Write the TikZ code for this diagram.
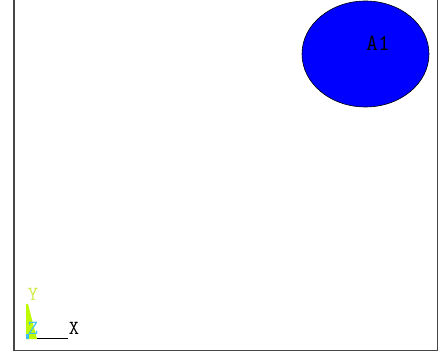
\documentclass[tikz,border=0pt]{standalone}
\usetikzlibrary{shapes.geometric}
\definecolor{frameg}{RGB}{70,70,70}
\definecolor{areablue}{RGB}{0,0,255}
\definecolor{triady}{RGB}{190,250,0}
\definecolor{labely}{RGB}{205,235,70}
\definecolor{labelz}{RGB}{60,190,250}
\tikzset{
  lbl/.style={inner sep=0pt, font=\ttfamily\fontsize{20}{20}\selectfont},
  arealbl/.style={inner sep=0pt, font=\ttfamily\fontsize{23}{23}\selectfont},
}
\begin{document}
\begin{tikzpicture}[x=1pt,y=-1pt]
\useasboundingbox (0,0) rectangle (441,352);
\fill[white] (0,0) rectangle (441,352);
% frame
\draw[frameg, line width=1.5pt] (14,0) -- (14,350.5) -- (437.5,350.5) -- (437.5,0);
% area
\node[ellipse, draw=black, line width=0.6pt, fill=areablue, minimum width=127pt, minimum height=106pt, inner sep=0pt] (a1) at (365.5,54) {};
\node[arealbl] (a1t) at (378,43) {A1};
% triad
\fill[triady] (26,304) -- (28,304) -- (37,339) -- (26,339) -- cycle;
\fill[labelz] (26,334) rectangle (29,339);
\coordinate (o) at (37,338.5);
\coordinate (xe) at (68,338.5);
\draw[black, line width=0.7pt] (o) -- (xe);
\node[lbl, text=labely] (ylab) at (33,294) {Y};
\node[lbl, text=labelz] (zlab) at (33,328) {Z};
\node[lbl, text=black] (xlab) at (74,328) {X};
\end{tikzpicture}
\end{document}
